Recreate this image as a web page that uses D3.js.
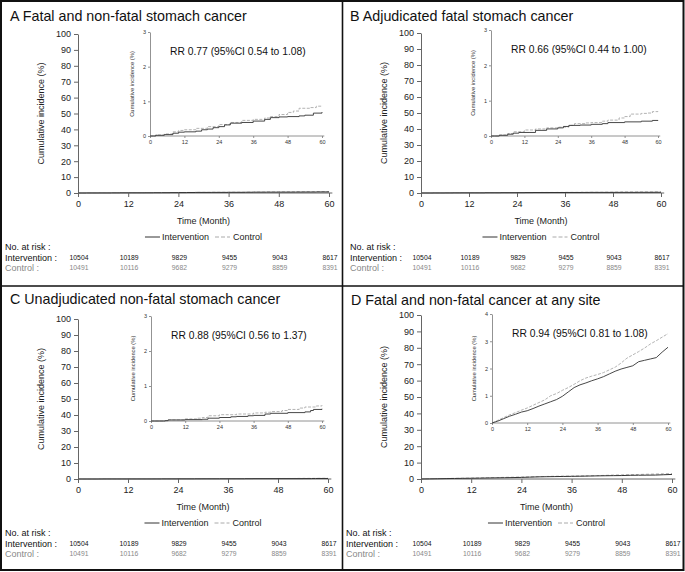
<!DOCTYPE html>
<html>
<head>
<meta charset="utf-8">
<script src="https://cdn.jsdelivr.net/npm/d3@7"></script>
<style>
  body { margin: 0; background: #fff; }
  svg { font-family: "Liberation Sans", Arial, sans-serif; }
</style>
</head>
<body>
<div id="chart"></div>
<script>

  // ---- data ----
  var titles = [
    "A Fatal and non-fatal stomach cancer",
    "B Adjudicated fatal stomach cancer",
    "C Unadjudicated non-fatal stomach cancer",
    "D Fatal and non-fatal cancer at any site"
  ];
  var rrLabels = [
    "RR 0.77 (95%CI 0.54 to 1.08)",
    "RR 0.66 (95%CI 0.44 to 1.00)",
    "RR 0.88 (95%CI 0.56 to 1.37)",
    "RR 0.94 (95%CI 0.81 to 1.08)"
  ];
  var monthTicks = [0, 12, 24, 36, 48, 60];
  var mainYTicks = [0, 10, 20, 30, 40, 50, 60, 70, 80, 90, 100];
  var insetMax = [3, 3, 3, 4];
  var atRiskIntervention = [10504, 10189, 9829, 9455, 9043, 8617];
  var atRiskControl = [10491, 10116, 9682, 9279, 8859, 8391];

  // cumulative incidence (%) : [month, value]
  var aIntervention = [[0,0],[2,0.02],[5,0.04],[8,0.08],[10,0.11],[12,0.12],[16,0.14],[18,0.18],[20,0.2],[22,0.24],[24,0.27],[26,0.32],[28,0.37],[32,0.39],[36,0.43],[40,0.48],[42,0.53],[45,0.55],[48,0.56],[52,0.58],[54,0.6],[57,0.66],[60,0.69]];
  var aControl = [[0,0],[2,0.03],[5,0.06],[8,0.12],[10,0.16],[12,0.18],[16,0.22],[20,0.27],[24,0.33],[28,0.39],[32,0.45],[36,0.48],[40,0.52],[42,0.56],[45,0.62],[48,0.68],[50,0.72],[52,0.8],[56,0.82],[58,0.86],[60,0.88]];
  var bIntervention = [[0,0],[3,0.02],[6,0.05],[8,0.08],[10,0.1],[14,0.1],[16,0.16],[20,0.2],[24,0.23],[26,0.27],[28,0.3],[32,0.31],[36,0.33],[40,0.35],[42,0.38],[48,0.4],[54,0.42],[58,0.44],[60,0.45]];
  var bControl = [[0,0],[3,0.03],[6,0.07],[8,0.12],[12,0.17],[16,0.2],[20,0.23],[24,0.25],[28,0.3],[30,0.35],[34,0.37],[36,0.38],[40,0.42],[42,0.45],[46,0.51],[48,0.55],[50,0.62],[54,0.64],[56,0.65],[58,0.69],[60,0.7]];
  var cIntervention = [[0,0],[5,0.01],[6,0.03],[12,0.04],[18,0.05],[20,0.08],[24,0.1],[28,0.12],[30,0.13],[34,0.15],[36,0.16],[40,0.2],[42,0.22],[48,0.24],[54,0.26],[56,0.3],[57,0.33],[60,0.35]];
  var cControl = [[0,0],[5,0.01],[6,0.03],[12,0.06],[16,0.08],[18,0.1],[20,0.15],[24,0.18],[30,0.2],[36,0.23],[40,0.25],[42,0.27],[46,0.3],[48,0.33],[52,0.37],[54,0.4],[58,0.43],[60,0.45]];
  var dIntervention = [[0,0],[2,0.07],[4,0.16],[6,0.25],[8,0.32],[10,0.4],[12,0.45],[14,0.53],[16,0.62],[18,0.7],[20,0.78],[22,0.86],[24,0.98],[26,1.14],[28,1.3],[30,1.4],[32,1.47],[34,1.55],[36,1.62],[38,1.7],[40,1.8],[42,1.9],[44,1.98],[46,2.04],[48,2.1],[50,2.25],[52,2.3],[54,2.35],[56,2.4],[58,2.6],[60,2.78]];
  var dControl = [[0,0],[2,0.1],[4,0.2],[6,0.3],[8,0.38],[10,0.47],[12,0.55],[14,0.65],[16,0.75],[18,0.85],[20,1.0],[22,1.08],[24,1.2],[26,1.3],[28,1.42],[30,1.55],[32,1.65],[34,1.72],[36,1.78],[38,1.85],[40,1.95],[42,2.05],[44,2.2],[46,2.38],[48,2.5],[50,2.62],[52,2.75],[54,2.9],[56,3.02],[58,3.15],[60,3.28]];

  var interventionSeries = [aIntervention, bIntervention, cIntervention, dIntervention];
  var controlSeries = [aControl, bControl, cControl, dControl];

  // ---- layout (pixels) ----
  var layout = [
    { tx: 10,  ty: 20.5, mx: [78, 329],  my: [193, 34],  ix: [150, 322], iy: [136, 32],  rx: 5,   curve: d3.curveStepAfter },
    { tx: 350, ty: 20.5, mx: [421, 661], my: [193, 33],  ix: [491, 658], iy: [136, 30],  rx: 350, curve: d3.curveStepAfter },
    { tx: 10,  ty: 304,  mx: [78, 328],  my: [479, 319], ix: [151, 322], iy: [421, 316], rx: 5,   curve: d3.curveStepAfter },
    { tx: 351, ty: 305,  mx: [421, 672], my: [479, 315], ix: [492, 668], iy: [423, 314], rx: 346, curve: d3.curveLinear }
  ];

  var darkLine = "#333";
  var lightLine = "#aaa";
  var greyText = "#888";

  var svg = d3.select('#chart')
              .append('svg')
              .attr('width', 685)
              .attr('height', 572);

  svg.append('rect')
     .attr('width', 685).attr('height', 572)
     .style('fill', '#fff');

  layout.forEach(function(L, i){
    var g = svg.append('g').attr('class', 'panel');

    g.append('text')
     .attr('x', L.tx).attr('y', L.ty)
     .style('font-size', '14.3px')
     .style('fill', '#111')
     .text(titles[i]);

    // main axes
    var x = d3.scaleLinear().domain([0, 60]).range(L.mx);
    var y = d3.scaleLinear().domain([0, 100]).range(L.my);

    var xAxis = g.append('g')
                 .attr('transform', 'translate(0,' + L.my[0] + ')')
                 .call(d3.axisBottom(x).tickValues(monthTicks).tickSize(4).tickPadding(4).tickSizeOuter(0));
    var yAxis = g.append('g')
                 .attr('transform', 'translate(' + L.mx[0] + ',0)')
                 .call(d3.axisLeft(y).tickValues(mainYTicks).tickSize(4).tickPadding(3).tickSizeOuter(0));
    [xAxis, yAxis].forEach(function(a){
      a.select('.domain').attr('stroke', '#666');
      a.selectAll('.tick line').attr('stroke', '#666');
      a.selectAll('.tick text').style('font-size', '9px').style('fill', '#222').attr('font-family', null);
    });
    xAxis.select('.domain').attr('d', 'M' + L.mx[0] + ',0H' + x(60.8));

    g.append('text')
     .attr('transform', 'translate(' + (L.mx[0] - 37) + ',' + ((L.my[0] + L.my[1]) / 2) + ') rotate(-90)')
     .attr('text-anchor', 'middle')
     .attr('dy', '0.35em')
     .style('font-size', '9px')
     .style('fill', '#222')
     .text('Cumulative incidence (%)');

    g.append('text')
     .attr('x', (L.mx[0] + L.mx[1]) / 2)
     .attr('y', L.my[0] + 31)
     .attr('text-anchor', 'middle')
     .style('font-size', '9px')
     .style('fill', '#222')
     .text('Time (Month)');

    var mainLine = d3.line().curve(L.curve)
                     .x(function(d){ return x(d[0]); })
                     .y(function(d){ return y(d[1]); });
    g.append('path').datum(controlSeries[i]).attr('d', mainLine)
     .style('fill', 'none').style('stroke', lightLine).style('stroke-width', 1).style('stroke-dasharray', '3,2');
    g.append('path').datum(interventionSeries[i]).attr('d', mainLine)
     .style('fill', 'none').style('stroke', darkLine).style('stroke-width', 1);

    // inset
    var ix = d3.scaleLinear().domain([0, 60]).range(L.ix);
    var iy = d3.scaleLinear().domain([0, insetMax[i]]).range(L.iy);

    var ixAxis = g.append('g')
                  .attr('transform', 'translate(0,' + L.iy[0] + ')')
                  .call(d3.axisBottom(ix).tickValues(monthTicks).tickSize(2).tickPadding(2).tickSizeOuter(0));
    var iyAxis = g.append('g')
                  .attr('transform', 'translate(' + L.ix[0] + ',0)')
                  .call(d3.axisLeft(iy).tickValues(d3.range(insetMax[i] + 1)).tickFormat(d3.format('d'))
                          .tickSize(2).tickPadding(2).tickSizeOuter(0));
    [ixAxis, iyAxis].forEach(function(a){
      a.select('.domain').attr('stroke', '#777').attr('stroke-width', 0.8);
      a.selectAll('.tick line').attr('stroke', '#777').attr('stroke-width', 0.8);
      a.selectAll('.tick text').style('font-size', '5.5px').style('fill', '#333').attr('font-family', null);
    });
    ixAxis.select('.domain').attr('d', 'M' + L.ix[0] + ',0H' + ix(60.8));

    g.append('text')
     .attr('transform', 'translate(' + (L.ix[0] - 18) + ',' + ((L.iy[0] + L.iy[1]) / 2) + ') rotate(-90)')
     .attr('text-anchor', 'middle')
     .attr('dy', '0.35em')
     .style('font-size', '5.8px')
     .style('fill', '#333')
     .text('Cumulative incidence (%)');

    g.append('text')
     .attr('x', L.ix[0] + 20)
     .attr('y', L.iy[1] + 19)
     .attr('dy', '0.35em')
     .style('font-size', '10.3px')
     .style('fill', '#111')
     .text(rrLabels[i]);

    var insetLine = d3.line().curve(L.curve)
                      .x(function(d){ return ix(d[0]); })
                      .y(function(d){ return iy(d[1]); });
    g.append('path').datum(controlSeries[i]).attr('d', insetLine)
     .style('fill', 'none').style('stroke', lightLine).style('stroke-width', 0.9).style('stroke-dasharray', '3,1.5');
    g.append('path').datum(interventionSeries[i]).attr('d', insetLine)
     .style('fill', 'none').style('stroke', darkLine).style('stroke-width', 0.9);

    // legend
    var ly = L.my[0] + 44;
    var leg = g.append('g');
    leg.append('line').attr('x1', 0).attr('x2', 15).attr('y1', ly).attr('y2', ly)
       .style('stroke', darkLine).style('stroke-width', 1);
    var t1 = leg.append('text').attr('x', 17).attr('y', ly).attr('dy', '0.35em')
                .style('font-size', '9px').style('fill', '#222').text('Intervention');
    var w1 = t1.node().getComputedTextLength();
    leg.append('line').attr('x1', 23 + w1).attr('x2', 38 + w1).attr('y1', ly).attr('y2', ly)
       .style('stroke', lightLine).style('stroke-width', 1).style('stroke-dasharray', '4,2');
    var t2 = leg.append('text').attr('x', 41 + w1).attr('y', ly).attr('dy', '0.35em')
                .style('font-size', '9px').style('fill', '#222').text('Control');
    var total = 41 + w1 + t2.node().getComputedTextLength();
    leg.attr('transform', 'translate(' + ((L.mx[0] + L.mx[1]) / 2 - total / 2) + ',0)');

    // numbers at risk
    var r0 = L.my[0] + 54;
    g.append('text').attr('x', L.rx).attr('y', r0).attr('dy', '0.35em')
     .style('font-size', '9px').style('fill', '#111').text('No. at risk :');
    g.append('text').attr('x', L.rx).attr('y', r0 + 11).attr('dy', '0.35em')
     .style('font-size', '9px').style('fill', '#111').text('Intervention :');
    g.append('text').attr('x', L.rx).attr('y', r0 + 21).attr('dy', '0.35em')
     .style('font-size', '9px').style('fill', greyText).text('Control :');

    g.selectAll('.ri').data(atRiskIntervention).enter().append('text')
     .attr('x', function(d, k){ return x(monthTicks[k]) + 1; })
     .attr('y', r0 + 11).attr('dy', '0.35em')
     .attr('text-anchor', 'middle')
     .style('font-size', '6.8px').style('fill', '#111')
     .text(function(d){ return d; });
    g.selectAll('.rc').data(atRiskControl).enter().append('text')
     .attr('x', function(d, k){ return x(monthTicks[k]) + 1; })
     .attr('y', r0 + 21).attr('dy', '0.35em')
     .attr('text-anchor', 'middle')
     .style('font-size', '6.8px').style('fill', greyText)
     .text(function(d){ return d; });
  });

  // frame and dividers
  svg.append('rect')
     .attr('x', 1).attr('y', 1).attr('width', 682.5).attr('height', 569)
     .style('fill', 'none').style('stroke', '#111').style('stroke-width', 2);
  svg.append('line').attr('x1', 342.5).attr('x2', 342.5).attr('y1', 1).attr('y2', 570)
     .style('stroke', '#111').style('stroke-width', 1.6);
  svg.append('line').attr('x1', 1).attr('x2', 683.5).attr('y1', 286).attr('y2', 286)
     .style('stroke', '#111').style('stroke-width', 1.6);

</script>
</body>
</html>
